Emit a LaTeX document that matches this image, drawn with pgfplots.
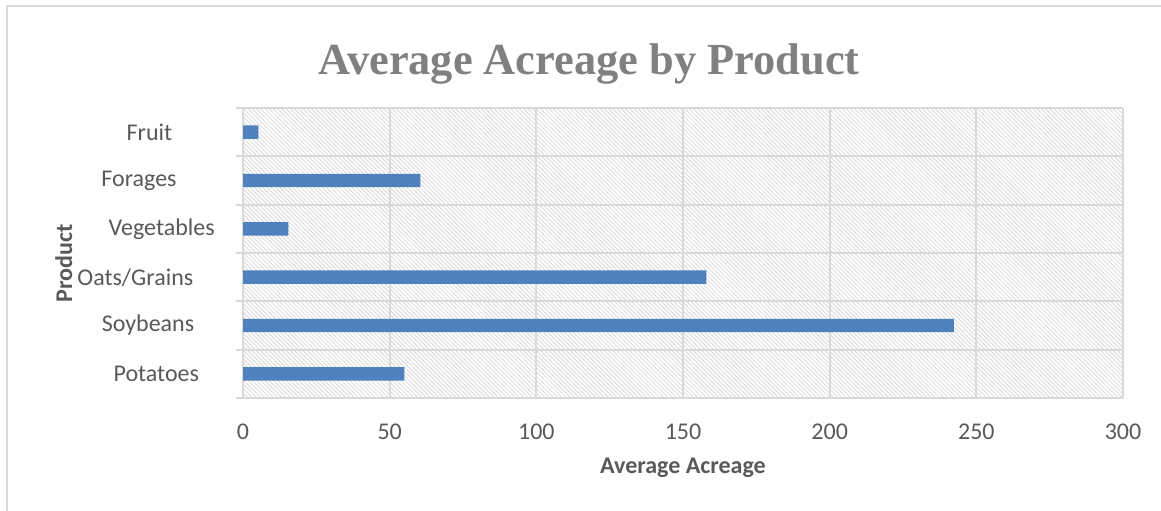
\documentclass[border=0pt]{standalone}
\usepackage{fontspec}
\setmainfont{Carlito}
\newfontfamily\titlefont{Liberation Serif}
\usepackage{pgfplots}
\pgfplotsset{compat=1.18}
\usetikzlibrary{patterns.meta}

\definecolor{barblue}{HTML}{4F81BD}
\definecolor{gridgray}{HTML}{D9D9D9}
\definecolor{textgray}{HTML}{595959}
\definecolor{titlegray}{HTML}{808080}
\definecolor{hatchgray}{HTML}{D6D6D6}

\begin{document}
\begin{tikzpicture}
% page frame: origin at the top left corner
\path[use as bounding box] (0,0) rectangle (580.5pt,-255pt);
\draw[gridgray, line width=0.75pt] (3.5pt,-260pt) -- (3.5pt,-3pt) -- (590pt,-3pt);
\node[titlegray, font=\titlefont\bfseries\fontsize{22.2}{26}\selectfont, anchor=base]
  at (294.5pt,-37pt) {Average Acreage by Product};

\begin{axis}[
  at={(121.5pt,-199pt)}, anchor=south west,
  scale only axis, width=440pt, height=145pt,
  /pgf/number format/assume math mode=true,
  xbar, bar width=6.7pt,
  xmin=0, xmax=300, ymin=-0.5, ymax=5.5,
  enlargelimits=false,
  xtick={0,50,...,300},
  ytick={0,...,5},
  yticklabels={\hspace*{8.3pt}Potatoes, Soybeans, Oats/Grains\hspace*{12.7pt},
               \hspace*{13.7pt}Vegetables, Forages\hspace*{9pt}, \hspace*{1.5pt}Fruit},
  minor ytick={-0.5,0.5,...,5.5},
  xtick pos=bottom, ytick pos=left,
  tick align=outside,
  major tick length=0pt,
  minor tick length=3.5pt,
  minor tick style={gridgray, line width=1pt},
  xmajorgrids, yminorgrids,
  major grid style={gridgray, line width=1pt},
  minor grid style={gridgray, line width=1pt},
  axis line style={draw=none},
  axis background/.style={pattern={Lines[angle=-45, distance=1.5pt, line width=0.4pt]},
                          pattern color=hatchgray},
  xticklabel style={font=\fontsize{12}{14}\selectfont, text=textgray, yshift=-9.4pt},
  yticklabel style={font=\fontsize{12}{14}\selectfont, text=textgray, anchor=center, xshift=-47.5pt},
  xlabel={Average Acreage},
  ylabel={Product},
  every axis x label/.style={at={(axis description cs:0.5,-0.262)}, anchor=base,
                             font=\bfseries\fontsize{12}{14}\selectfont, text=textgray},
  every axis y label/.style={at={(axis description cs:-0.1943,0.4655)}, rotate=90, anchor=base,
                             font=\bfseries\fontsize{12}{14}\selectfont, text=textgray},
]
\addplot[fill=barblue, draw=none] coordinates {
  (55,0) (242.3,1) (158,2) (15.5,3) (60.5,4) (5.2,5)
};
\end{axis}
\end{tikzpicture}
\end{document}
